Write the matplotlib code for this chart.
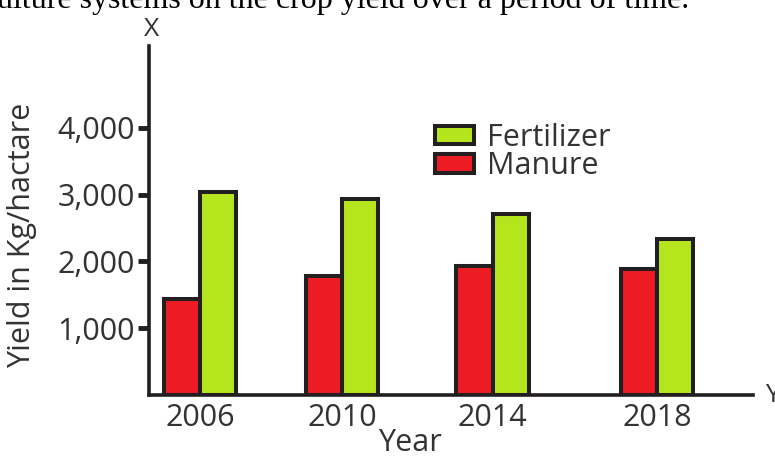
import matplotlib
matplotlib.use("Agg")
import matplotlib.pyplot as plt
from matplotlib.patches import Patch

# data
years = ["2006", "2010", "2014", "2018"]
manure = [1440, 1780, 1930, 1890]
fertilizer = [3040, 2940, 2710, 2340]
yticks = [1000, 2000, 3000, 4000]
ytick_labels = ["1,000", "2,000", "3,000", "4,000"]

# layout (group centres are not evenly spaced in the original)
pos = [0, 1, 2.06, 3.22]
bw = 0.255

RED = "#ED1C24"
GREEN = "#B5E61D"
EDGE = "#231F20"
TXT = "#333333"

plt.rcParams["font.family"] = ["Open Sans", "DejaVu Sans"]

fig = plt.figure(figsize=(7.75, 4.62), dpi=100)
ax = fig.add_axes([149 / 775, 1 - 394.7 / 462, 604 / 775, 348.7 / 462])

xm = [p - bw / 2 for p in pos]
xf = [p + bw / 2 for p in pos]
ax.bar(xm, manure, width=bw, color=RED, edgecolor=EDGE, linewidth=2.9, zorder=3)
ax.bar(xf, fertilizer, width=bw, color=GREEN, edgecolor=EDGE, linewidth=2.9, zorder=3)

ax.set_xlim(-0.359, 3.894)
ax.set_ylim(0, 5228)

ax.set_xticks(pos)
ax.set_xticklabels(years)
ax.set_yticks(yticks)
ax.set_yticklabels(ytick_labels)
ax.tick_params(axis="x", length=0, pad=6, labelsize=22, labelcolor=TXT)
ax.tick_params(axis="y", length=8, width=3.5, color=EDGE, pad=2, labelsize=22, labelcolor=TXT)

for s in ["top", "right"]:
    ax.spines[s].set_visible(False)
for s in ["left", "bottom"]:
    ax.spines[s].set_color(EDGE)
    ax.spines[s].set_linewidth(2.6)
    ax.spines[s].set_zorder(4)

ax.set_ylabel("Yield in Kg/hactare", fontsize=22, color=TXT)
ax.yaxis.set_label_coords(-0.185, 0.458)
ax.set_xlabel("Year", fontsize=22, color=TXT)
ax.xaxis.set_label_coords(0.432, -0.095)

handles = [Patch(facecolor=GREEN, edgecolor=EDGE, linewidth=2.9),
           Patch(facecolor=RED, edgecolor=EDGE, linewidth=2.9)]
ax.legend(handles, ["Fertilizer", "Manure"], frameon=False, fontsize=22,
          labelcolor=TXT, handlelength=1.3, handleheight=0.55, handletextpad=0.4,
          labelspacing=-0.04, loc="upper left", bbox_to_anchor=(0.473, 0.78),
          borderpad=0, borderaxespad=0)

fig.text(152 / 775, 1 - 30 / 462, "X", fontsize=19, color=TXT, ha="center", va="center")
fig.text(765 / 775, 1 - 395 / 462, "Y", fontsize=19, color=TXT, ha="left", va="center")

fig.text(-0.004, 1 - 8 / 462, "ulture systems on the crop yield over a period of time.",
         family="Liberation Serif", fontsize=23, color="black", ha="left", va="baseline")

fig.savefig("out.png", dpi=100)
